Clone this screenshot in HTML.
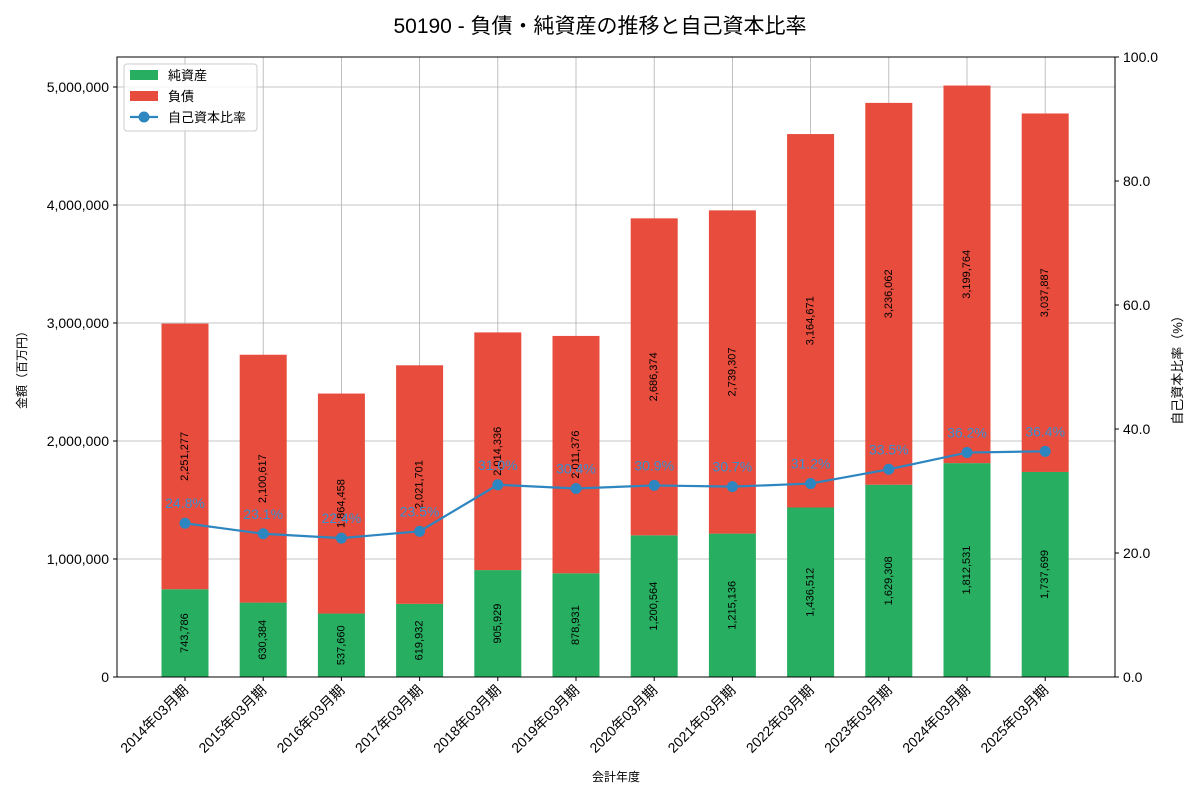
<!DOCTYPE html>
<html><head><meta charset="utf-8"><style>
body{margin:0;background:#fff;font-family:"Liberation Sans","Noto Sans CJK JP",sans-serif}
</style></head><body>
<svg id="c" width="1200" height="800" xmlns="http://www.w3.org/2000/svg" font-family="Liberation Sans, Noto Sans CJK JP, sans-serif"></svg>
<script>
const categories=["2014年03月期","2015年03月期","2016年03月期","2017年03月期","2018年03月期","2019年03月期","2020年03月期","2021年03月期","2022年03月期","2023年03月期","2024年03月期","2025年03月期"];
const netAssets=[743786,630384,537660,619932,905929,878931,1200564,1215136,1436512,1629308,1812531,1737699];
const liabilities=[2251277,2100617,1864458,2021701,2014336,2011376,2686374,2739307,3164671,3236062,3199764,3037887];
const ratios=[24.8,23.1,22.4,23.5,31.0,30.4,30.9,30.7,31.2,33.5,36.2,36.4];
const leftTicks=[0,1000000,2000000,3000000,4000000,5000000];
const rightTicks=[0,20,40,60,80,100];
const X0=117,X1=1115,Y0=677,Y1=57;
const yL=v=>Y0-v*118/1e6;
const yR=v=>Y0-v*(Y0-Y1)/100;
const xC=i=>185+i*78.2;
const BW=47;
const svg=document.getElementById('c');
const NS="http://www.w3.org/2000/svg";
function el(t,a,p){const e=document.createElementNS(NS,t);for(const k in a)e.setAttribute(k,a[k]);(p||svg).appendChild(e);return e;}
const fmt=v=>v.toLocaleString('en-US');
// grid
leftTicks.forEach(t=>{const g=el('line',{x1:X0,x2:X1,y1:yL(t),y2:yL(t),stroke:'#b0b0b0','stroke-width':0.8});

});
categories.forEach((c,i)=>{const g=el('line',{x1:xC(i),x2:xC(i),y1:Y1,y2:Y0,stroke:'#b0b0b0','stroke-width':0.8});

});
// bars
categories.forEach((c,i)=>{
 const x=xC(i)-BW/2;
 const g=el('rect',{x:x,y:yL(netAssets[i]),width:BW,height:Y0-yL(netAssets[i]),fill:'#27ae60'});
 
 
 const r=el('rect',{x:x,y:yL(netAssets[i]+liabilities[i]),width:BW,height:yL(netAssets[i])-yL(netAssets[i]+liabilities[i]),fill:'#e74c3c'});
 
 
 const ym=(Y0+yL(netAssets[i]))/2;
 const t1=el('text',{x:xC(i),y:ym,'font-size':11,'text-anchor':'middle','dominant-baseline':'central',transform:`rotate(-90 ${xC(i)} ${ym})`});
 t1.textContent=fmt(netAssets[i]);
 
 
 const ym2=(yL(netAssets[i])+yL(netAssets[i]+liabilities[i]))/2;
 const t2=el('text',{x:xC(i),y:ym2,'font-size':11,'text-anchor':'middle','dominant-baseline':'central',transform:`rotate(-90 ${xC(i)} ${ym2})`});
 t2.textContent=fmt(liabilities[i]);
 
 
});
// line
const pl=el('polyline',{points:ratios.map((r,i)=>xC(i)+','+yR(r)).join(' '),fill:'none',stroke:'#2e86c1','stroke-width':2.2});


ratios.forEach((r,i)=>{
 const c=el('circle',{cx:xC(i),cy:yR(r),r:5.5,fill:'#2e86c1'});
 
 
 const t=el('text',{x:xC(i),y:yR(r)-15,'font-size':14,'text-anchor':'middle',fill:'#3a8fd0'});
 t.textContent=r.toFixed(1)+'%';
 
 
});
// frame
const f=el('rect',{x:X0,y:Y1,width:X1-X0,height:Y0-Y1,fill:'none',stroke:'#000','stroke-width':1});


leftTicks.forEach(t=>{
 el('line',{x1:X0-4,x2:X0,y1:yL(t),y2:yL(t),stroke:'#000'});
 const s=el('text',{x:X0-8,y:yL(t)+5,'font-size':14,'text-anchor':'end'});
 s.textContent=fmt(t);
 
 
});
rightTicks.forEach(t=>{
 el('line',{x1:X1,x2:X1+4,y1:yR(t),y2:yR(t),stroke:'#000'});
 const s=el('text',{x:X1+8,y:yR(t)+5,'font-size':14});
 s.textContent=t.toFixed(1);
 
 
});
categories.forEach((c,i)=>{
 el('line',{x1:xC(i),x2:xC(i),y1:Y0,y2:Y0+4,stroke:'#000'});
 const s=el('text',{x:xC(i)+4,y:Y0+14,'font-size':14,'text-anchor':'end',transform:`rotate(-45 ${xC(i)+4} ${Y0+14})`});
 s.textContent=c;
 
 
});
</script>
<svg style="position:absolute;left:0;top:0" width="1200" height="800" font-family="Liberation Sans, Noto Sans CJK JP, sans-serif">
<text x="600" y="33" font-size="21" text-anchor="middle">50190 - 負債・純資産の推移と自己資本比率</text>
<text x="616" y="781" font-size="12" text-anchor="middle">会計年度</text>
<text x="26" y="367" font-size="12" text-anchor="middle" transform="rotate(-90 26 367)">金額（百万円）</text>
<text x="1182" y="367" font-size="13" text-anchor="middle" transform="rotate(-90 1182 367)">自己資本比率（%）</text>
<g>
<rect x="124" y="64" width="133" height="67" fill="#fff" fill-opacity="0.85" stroke="#ccc" rx="3"/>
<rect x="130" y="70" width="28" height="10" fill="#27ae60"/>
<text x="168" y="80" font-size="13">純資産</text>
<rect x="130" y="91" width="28" height="10" fill="#e74c3c"/>
<text x="168" y="101" font-size="13">負債</text>
<line x1="130" x2="158" y1="117" y2="117" stroke="#2e86c1" stroke-width="2.2"/>
<circle cx="144" cy="117" r="5.5" fill="#2e86c1"/>
<text x="168" y="122" font-size="13">自己資本比率</text>
</g>
</svg>
</body></html>
